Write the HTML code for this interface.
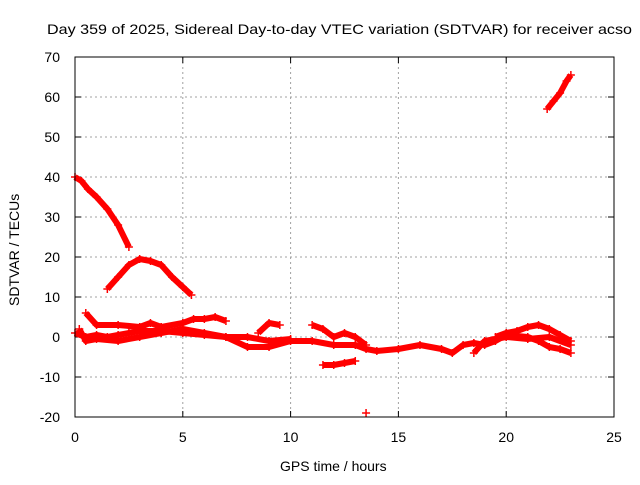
<!DOCTYPE html>
<html><head><meta charset="utf-8"><style>
body{margin:0;background:#fff}
svg text{font-family:"Liberation Sans",sans-serif;font-size:14px;fill:#000}
</style></head><body>
<svg width="640" height="480" xmlns="http://www.w3.org/2000/svg">
<text x="47" y="34" textLength="585" lengthAdjust="spacingAndGlyphs">Day 359 of 2025, Sidereal Day-to-day VTEC variation (SDTVAR) for receiver acso</text>
<g id="grid"></g>
<g id="axes"></g>
<g id="series"></g>
<rect x="75" y="57" width="539" height="360" fill="none" stroke="#000"/>
<text x="280" y="471">GPS time / hours</text>
<text transform="translate(19,306) rotate(-90)">SDTVAR / TECUs</text>
</svg>
<script>
const xTicks=[0,5,10,15,20,25];
const yTicks=[-20,-10,0,10,20,30,40,50,60,70];
const t1=[[0,40],[0.3,39],[0.6,37],[1,35],[1.5,32],[2,28],[2.5,22.5]];
const t2=[[1.5,12],[2,15],[2.5,18],[3,19.5],[3.5,19],[4,18],[4.5,15],[5,12.5],[5.4,10.5]];
const t3=[[21.9,57],[22.2,59],[22.5,61],[22.8,64],[23,65.5]];
const t4=[[0,1],[0.5,0],[1,0.5],[1.5,0],[2,0.5],[2.5,1],[3,1.5],[4,1.5],[5,1],[6,0.5],[7,0],[8,-2.5],[9,-2.5],[10,-1],[11,-1],[12,-2],[13,-2],[13.5,-3],[14,-3.5],[15,-3],[16,-2],[17,-3],[17.5,-4],[18,-2],[18.5,-1.5],[19,-2],[19.5,-1],[20,0.5],[21,0],[21.5,-1],[22,-2.5],[22.5,-3],[23,-4]];
const t5=[[0.5,6],[1,3],[2,3],[3,2.5],[3.5,3.5],[4,2.5],[5,3.5],[5.5,4.5],[6,4.5],[6.5,5],[7,4]];
const t6=[[0.2,2],[0.5,-1],[1,-0.5],[2,-1],[3,0],[4,1],[5,2],[6,1],[7,0],[8,0],[9,-1],[10,-0.5]];
const t7=[[8.5,1],[9,3.5],[9.5,3]];
const t8=[[11,3],[11.5,2],[12,0],[12.5,1],[13,0],[13.5,-2]];
const t9=[[11.5,-7],[12,-7],[12.5,-6.5],[13,-6]];
const t10=[[13.5,-19]];
const t11=[[19.5,0],[20,1],[20.5,1.5],[21,2.5],[21.5,3],[22,2],[22.5,0.5],[23,-1]];
const t12=[[18.5,-4],[19,-1],[20,0],[21,-0.5],[22,0],[23,-2]];
const tracks=[t1,t2,t3,t4,t5,t6,t7,t8,t9,t10,t11,t12];
const NS='http://www.w3.org/2000/svg';
const X=v=>75+v*(539/25);
const Y=v=>417-(v+20)*4;
function mk(tag,at,parent){const e=document.createElementNS(NS,tag);for(const k in at)e.setAttribute(k,at[k]);parent.appendChild(e);return e;}
const grid=document.getElementById('grid'),axes=document.getElementById('axes'),ser=document.getElementById('series');
xTicks.forEach(t=>{
 if(t>0&&t<25){const g=mk('line',{x1:X(t),x2:X(t),y1:57,y2:417,stroke:'#a0a0a0','stroke-dasharray':'2,3'},grid);
 
 }
 const l=mk('text',{x:X(t),y:442,'text-anchor':'middle'},axes);l.textContent=t;
 
 
 mk('line',{x1:X(t),x2:X(t),y1:417,y2:411,stroke:'#000'},axes);
 mk('line',{x1:X(t),x2:X(t),y1:57,y2:63,stroke:'#000'},axes);
});
yTicks.forEach(t=>{
 if(t>-20&&t<70){const g=mk('line',{x1:75,x2:614,y1:Y(t),y2:Y(t),stroke:'#a0a0a0','stroke-dasharray':'2,3'},grid);
 
 }
 const l=mk('text',{x:60,y:Y(t)+5,'text-anchor':'end'},axes);l.textContent=t;
 
 
 mk('line',{x1:75,x2:81,y1:Y(t),y2:Y(t),stroke:'#000'},axes);
 mk('line',{x1:614,x2:608,y1:Y(t),y2:Y(t),stroke:'#000'},axes);
});
tracks.forEach((tr,i)=>{
 if(tr.length>1){
  const p=mk('polyline',{points:tr.map(d=>X(d[0])+','+Y(d[1])).join(' '),fill:'none',stroke:'#f00','stroke-width':6,'stroke-linejoin':'round'},ser);
  
  
 }
 tr.forEach(d=>{
  const m=mk('path',{d:`M${X(d[0])-4},${Y(d[1])}h8M${X(d[0])},${Y(d[1])-4}v8`,stroke:'#f00','stroke-width':1.5},ser);
  
  
 });
});
</script>
</body></html>
